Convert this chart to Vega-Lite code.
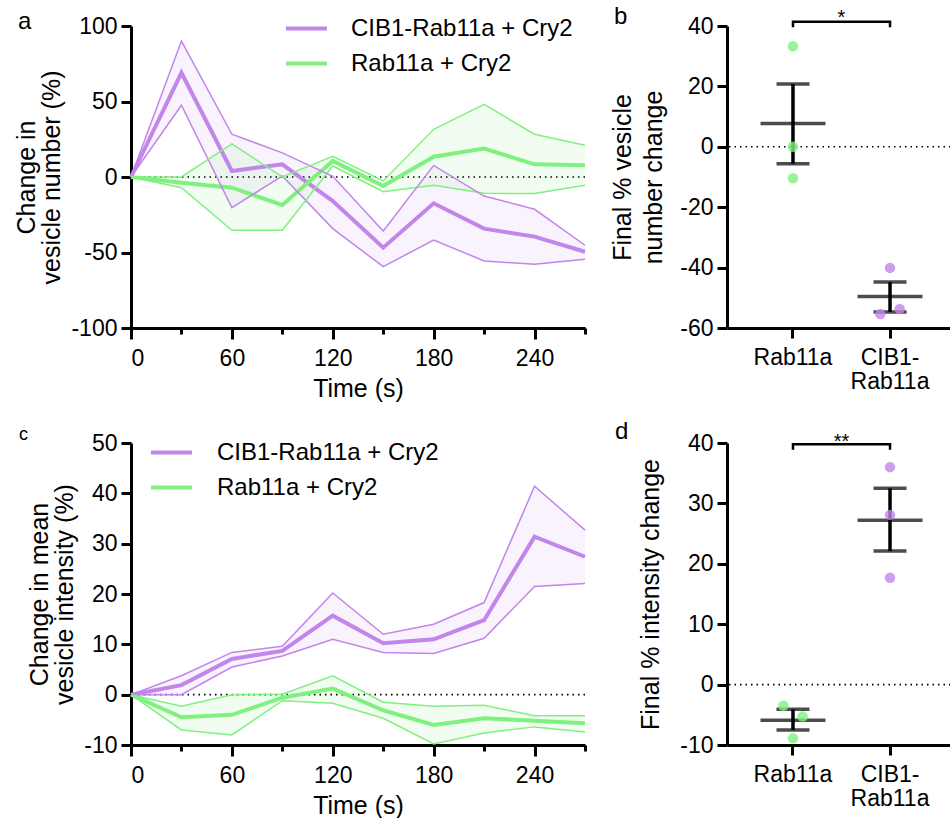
{
  "$schema": "https://vega.github.io/schema/vega-lite/v6.json",
  "padding": {"left": 14, "top": 5, "right": 0, "bottom": 0},
  "background": "white",
  "config": {
    "font": "Liberation Sans",
    "view": {"stroke": null},
    "axis": {"domainColor": "black", "domainWidth": 3, "tickColor": "black", "tickWidth": 3, "tickSize": 10, "labelFontSize": 23, "labelColor": "black", "titleFontSize": 25, "titleFontWeight": "normal", "titleColor": "black", "grid": false, "labelFont": "Liberation Sans", "titleFont": "Liberation Sans", "labelPadding": 4, "labelExpr": "replace(datum.label, '−', '-')"},
    "title": {"fontSize": 24, "fontWeight": "normal", "anchor": "start", "frame": "group", "color": "black"},
    "legend": {"labelFont": "Liberation Sans", "labelColor": "black", "labelLimit": 500}
  },
  "datasets": {
    "num": [
      {"t": 0, "g": "CIB1-Rab11a + Cry2", "mean": 0, "lo": 0, "hi": 0},
      {"t": 30, "g": "CIB1-Rab11a + Cry2", "mean": 69, "lo": 47.5, "hi": 90},
      {"t": 60, "g": "CIB1-Rab11a + Cry2", "mean": 4, "lo": -20.3, "hi": 28.3},
      {"t": 90, "g": "CIB1-Rab11a + Cry2", "mean": 8.4, "lo": 0.7, "hi": 16},
      {"t": 120, "g": "CIB1-Rab11a + Cry2", "mean": -15.9, "lo": -34.2, "hi": 0.5},
      {"t": 150, "g": "CIB1-Rab11a + Cry2", "mean": -46.8, "lo": -59.4, "hi": -35.8},
      {"t": 180, "g": "CIB1-Rab11a + Cry2", "mean": -17.4, "lo": -41.7, "hi": 7.7},
      {"t": 210, "g": "CIB1-Rab11a + Cry2", "mean": -34.2, "lo": -55.6, "hi": -12.6},
      {"t": 240, "g": "CIB1-Rab11a + Cry2", "mean": -39.5, "lo": -57.8, "hi": -21.4},
      {"t": 270, "g": "CIB1-Rab11a + Cry2", "mean": -49.5, "lo": -54.5, "hi": -45.2},
      {"t": 0, "g": "Rab11a + Cry2", "mean": 0, "lo": 0, "hi": 0},
      {"t": 30, "g": "Rab11a + Cry2", "mean": -3.8, "lo": -7.1, "hi": 0},
      {"t": 60, "g": "Rab11a + Cry2", "mean": -7.1, "lo": -35.3, "hi": 22},
      {"t": 90, "g": "Rab11a + Cry2", "mean": -18.5, "lo": -35.3, "hi": 0},
      {"t": 120, "g": "Rab11a + Cry2", "mean": 10.6, "lo": 7.3, "hi": 13.7},
      {"t": 150, "g": "Rab11a + Cry2", "mean": -6, "lo": -9.7, "hi": -2.6},
      {"t": 180, "g": "Rab11a + Cry2", "mean": 13.4, "lo": -5.5, "hi": 31.6},
      {"t": 210, "g": "Rab11a + Cry2", "mean": 18.8, "lo": -10.8, "hi": 48.1},
      {"t": 240, "g": "Rab11a + Cry2", "mean": 8.4, "lo": -11, "hi": 28.3},
      {"t": 270, "g": "Rab11a + Cry2", "mean": 7.7, "lo": -5.5, "hi": 21}
    ],
    "int": [
      {"t": 0, "g": "CIB1-Rab11a + Cry2", "mean": 0, "lo": 0, "hi": 0},
      {"t": 30, "g": "CIB1-Rab11a + Cry2", "mean": 1.9, "lo": 0, "hi": 3.75},
      {"t": 60, "g": "CIB1-Rab11a + Cry2", "mean": 7.1, "lo": 5.5, "hi": 8.4},
      {"t": 90, "g": "CIB1-Rab11a + Cry2", "mean": 8.7, "lo": 7.7, "hi": 9.6},
      {"t": 120, "g": "CIB1-Rab11a + Cry2", "mean": 15.7, "lo": 11, "hi": 20.2},
      {"t": 150, "g": "CIB1-Rab11a + Cry2", "mean": 10.2, "lo": 8.4, "hi": 12},
      {"t": 180, "g": "CIB1-Rab11a + Cry2", "mean": 11, "lo": 8.2, "hi": 14},
      {"t": 210, "g": "CIB1-Rab11a + Cry2", "mean": 14.8, "lo": 11.2, "hi": 18.3},
      {"t": 240, "g": "CIB1-Rab11a + Cry2", "mean": 31.4, "lo": 21.5, "hi": 41.4},
      {"t": 270, "g": "CIB1-Rab11a + Cry2", "mean": 27.4, "lo": 22.1, "hi": 32.7},
      {"t": 0, "g": "Rab11a + Cry2", "mean": 0, "lo": 0, "hi": 0},
      {"t": 30, "g": "Rab11a + Cry2", "mean": -4.5, "lo": -7, "hi": -2.3},
      {"t": 60, "g": "Rab11a + Cry2", "mean": -4, "lo": -8, "hi": 0},
      {"t": 90, "g": "Rab11a + Cry2", "mean": -0.6, "lo": -1.2, "hi": 0.1},
      {"t": 120, "g": "Rab11a + Cry2", "mean": 1.2, "lo": -1.7, "hi": 3.75},
      {"t": 150, "g": "Rab11a + Cry2", "mean": -3.1, "lo": -4.7, "hi": -1.5},
      {"t": 180, "g": "Rab11a + Cry2", "mean": -6, "lo": -9.8, "hi": -2.3},
      {"t": 210, "g": "Rab11a + Cry2", "mean": -4.7, "lo": -7.6, "hi": -2.1},
      {"t": 240, "g": "Rab11a + Cry2", "mean": -5.2, "lo": -6.4, "hi": -4.2},
      {"t": 270, "g": "Rab11a + Cry2", "mean": -5.7, "lo": -7.4, "hi": -4.2}
    ],
    "ptsB": [
      {"grp": "Rab11a", "v": 33.3, "pos": "C"},
      {"grp": "Rab11a", "v": 0, "pos": "C"},
      {"grp": "Rab11a", "v": -10.4, "pos": "C"},
      {"grp": "CIB1-Rab11a", "v": -40.1, "pos": "C"},
      {"grp": "CIB1-Rab11a", "v": -55.4, "pos": "L"},
      {"grp": "CIB1-Rab11a", "v": -53.7, "pos": "R"}
    ],
    "sumB": [
      {"grp": "Rab11a", "mean": 7.7, "lo": -5.6, "hi": 20.8},
      {"grp": "CIB1-Rab11a", "mean": -49.6, "lo": -54.7, "hi": -44.8}
    ],
    "ptsD": [
      {"grp": "Rab11a", "v": -3.5, "pos": "L"},
      {"grp": "Rab11a", "v": -5.3, "pos": "R"},
      {"grp": "Rab11a", "v": -8.9, "pos": "C"},
      {"grp": "CIB1-Rab11a", "v": 36, "pos": "C"},
      {"grp": "CIB1-Rab11a", "v": 28.1, "pos": "C"},
      {"grp": "CIB1-Rab11a", "v": 17.7, "pos": "C"}
    ],
    "sumD": [
      {"grp": "Rab11a", "mean": -5.9, "lo": -7.5, "hi": -4.1},
      {"grp": "CIB1-Rab11a", "mean": 27.2, "lo": 22.1, "hi": 32.5}
    ],
    "brB": [
      {"grp": "Rab11a", "y": 39.6, "o": 1},
      {"grp": "Rab11a", "y": 41.4, "o": 2},
      {"grp": "CIB1-Rab11a", "y": 41.4, "o": 3},
      {"grp": "CIB1-Rab11a", "y": 39.6, "o": 4}
    ],
    "brD": [
      {"grp": "Rab11a", "y": 38.9, "o": 1},
      {"grp": "Rab11a", "y": 39.8, "o": 2},
      {"grp": "CIB1-Rab11a", "y": 39.8, "o": 3},
      {"grp": "CIB1-Rab11a", "y": 38.9, "o": 4}
    ],
    "starB": [{"grp": "Rab11a", "y": 40.5, "s": "*"}],
    "starD": [{"grp": "Rab11a", "y": 39.2, "s": "**"}]
  },
  "bounds": "flush",
  "columns": 2,
  "spacing": {"row": 115, "column": 142},
  "resolve": {
    "scale": {"x": "independent", "y": "independent", "xOffset": "independent"}
  },
  "concat": [
    {
      "width": 454, "height": 302,
      "title": {"text": "a", "dx": -113, "dy": 19, "offset": 0},
      "data": {"name": "num"},
      "layer": [
        {
          "mark": {"type": "area", "fillOpacity": 0.1},
          "encoding": {
            "x": {"field": "t", "type": "quantitative", "scale": {"domain": [0, 270], "nice": false},
              "axis": {"title": "Time (s)", "values": [0, 30, 60, 90, 120, 150, 180, 210, 240, 270], "labelExpr": "datum.value % 60 === 0 ? datum.label : ''", "tickSize": {"condition": {"test": "datum.value % 60 === 0", "value": 11}, "value": 6}, "labelPadding": 8, "titlePadding": 6}},
            "y": {"field": "lo", "type": "quantitative", "scale": {"domain": [-100, 100], "nice": false},
              "axis": {"title": ["Change in", "vesicle number (%)"], "values": [-100, -50, 0, 50, 100], "titleLineHeight": 25, "titlePadding": 6}},
            "y2": {"field": "hi"},
            "detail": {"field": "g"},
            "fill": {"condition": {"test": "datum.g === 'Rab11a + Cry2'", "value": "#80f080"}, "value": "#c285ea"}
          }
        },
        {
          "data": {"values": [{}]},
          "mark": {"type": "rule", "strokeDash": [1.5, 4], "strokeWidth": 1.6, "color": "black"},
          "encoding": {"y": {"datum": 0}}
        },
        {
          "mark": {"type": "line", "strokeWidth": 4},
          "encoding": {
            "x": {"field": "t", "type": "quantitative"},
            "y": {"field": "mean", "type": "quantitative"},
            "color": {"field": "g", "type": "nominal", "title": null, "scale": {"domain": ["CIB1-Rab11a + Cry2", "Rab11a + Cry2"], "range": ["#c285ea", "#80f080"]},
              "legend": {"orient": "none", "legendX": 153, "legendY": -20, "title": null, "labelFontSize": 24, "symbolType": "stroke", "symbolSize": 1681, "symbolStrokeWidth": 4, "labelOffset": 22, "rowPadding": -1, "padding": 0}}
          }
        },
        {
          "mark": {"type": "line", "strokeWidth": 1.5},
          "encoding": {
            "x": {"field": "t", "type": "quantitative"},
            "y": {"field": "lo", "type": "quantitative"},
            "color": {"field": "g", "type": "nominal", "title": null}
          }
        },
        {
          "mark": {"type": "line", "strokeWidth": 1.5},
          "encoding": {
            "x": {"field": "t", "type": "quantitative"},
            "y": {"field": "hi", "type": "quantitative"},
            "color": {"field": "g", "type": "nominal", "title": null}
          }
        }
      ]
    },
    {
      "width": 229, "height": 302,
      "title": {"text": "b", "dx": -113, "dy": 21, "offset": 0},
      "layer": [
        {
          "data": {"values": [{}]},
          "mark": {"type": "rule", "strokeDash": [1.5, 4], "strokeWidth": 1.6, "color": "black"},
          "encoding": {"y": {"datum": 0, "type": "quantitative", "scale": {"domain": [-60, 40], "nice": false}}}
        },
        {
          "data": {"name": "sumB"},
          "mark": {"type": "rule", "strokeWidth": 3.5, "color": "black"},
          "encoding": {
            "x": {"field": "grp", "type": "nominal", "sort": ["Rab11a", "CIB1-Rab11a"], "scale": {"type": "band", "paddingInner": 0, "paddingOuter": 0.18},
              "axis": {"title": null, "labelAngle": 0, "labelExpr": "datum.value == 'CIB1-Rab11a' ? ['CIB1-', 'Rab11a'] : datum.value", "labelPadding": 8, "labelLineHeight": 24}},
            "y": {"field": "lo", "type": "quantitative", "scale": {"domain": [-60, 40], "nice": false},
              "axis": {"title": ["Final % vesicle", "number change"], "values": [-60, -40, -20, 0, 20, 40], "titleLineHeight": 31, "titlePadding": 13}},
            "y2": {"field": "hi"}
          }
        },
        {
          "data": {"name": "sumB"},
          "mark": {"type": "tick", "size": 65, "thickness": 3.5, "color": "black"},
          "encoding": {
            "x": {"field": "grp", "type": "nominal", "sort": ["Rab11a", "CIB1-Rab11a"]},
            "y": {"field": "mean", "type": "quantitative"}
          }
        },
        {
          "data": {"name": "sumB"},
          "mark": {"type": "tick", "size": 33, "thickness": 3.5, "color": "black"},
          "encoding": {
            "x": {"field": "grp", "type": "nominal", "sort": ["Rab11a", "CIB1-Rab11a"]},
            "y": {"field": "lo", "type": "quantitative"}
          }
        },
        {
          "data": {"name": "sumB"},
          "mark": {"type": "tick", "size": 33, "thickness": 3.5, "color": "black"},
          "encoding": {
            "x": {"field": "grp", "type": "nominal", "sort": ["Rab11a", "CIB1-Rab11a"]},
            "y": {"field": "hi", "type": "quantitative"}
          }
        },
        {
          "data": {"name": "ptsB"},
          "mark": {"type": "point", "filled": true, "size": 110, "opacity": 0.8},
          "encoding": {
            "x": {"field": "grp", "type": "nominal", "sort": ["Rab11a", "CIB1-Rab11a"]},
            "xOffset": {"field": "pos", "type": "nominal", "scale": {"domain": ["L", "C", "R"], "range": [34, 63]}},
            "y": {"field": "v", "type": "quantitative"},
            "fill": {"field": "grp", "type": "nominal", "scale": {"domain": ["Rab11a", "CIB1-Rab11a"], "range": ["#80f080", "#c285ea"]}, "legend": null}
          }
        },
        {
          "data": {"name": "brB"},
          "mark": {"type": "line", "strokeWidth": 2.5, "color": "black"},
          "encoding": {
            "x": {"field": "grp", "type": "nominal", "sort": ["Rab11a", "CIB1-Rab11a"], "bandPosition": 0.5},
            "y": {"field": "y", "type": "quantitative"},
            "order": {"field": "o"}
          }
        },
        {
          "data": {"name": "starB"},
          "mark": {"type": "text", "fontSize": 20, "baseline": "alphabetic", "color": "black"},
          "encoding": {
            "x": {"field": "grp", "type": "nominal", "sort": ["Rab11a", "CIB1-Rab11a"], "bandPosition": 1},
            "y": {"field": "y", "type": "quantitative"},
            "text": {"field": "s"}
          }
        }
      ]
    },
    {
      "width": 454, "height": 302,
      "title": {"text": "c", "dx": -112, "dy": 12, "offset": 0, "fontSize": 18},
      "data": {"name": "int"},
      "layer": [
        {
          "mark": {"type": "area", "fillOpacity": 0.1},
          "encoding": {
            "x": {"field": "t", "type": "quantitative", "scale": {"domain": [0, 270], "nice": false},
              "axis": {"title": "Time (s)", "values": [0, 30, 60, 90, 120, 150, 180, 210, 240, 270], "labelExpr": "datum.value % 60 === 0 ? datum.label : ''", "tickSize": {"condition": {"test": "datum.value % 60 === 0", "value": 11}, "value": 6}, "labelPadding": 8, "titlePadding": 6}},
            "y": {"field": "lo", "type": "quantitative", "scale": {"domain": [-10, 50], "nice": false},
              "axis": {"title": ["Change in mean", "vesicle intensity (%)"], "values": [-10, 0, 10, 20, 30, 40, 50], "titleLineHeight": 25, "titlePadding": 6}},
            "y2": {"field": "hi"},
            "detail": {"field": "g"},
            "fill": {"condition": {"test": "datum.g === 'Rab11a + Cry2'", "value": "#80f080"}, "value": "#c285ea"}
          }
        },
        {
          "data": {"values": [{}]},
          "mark": {"type": "rule", "strokeDash": [1.5, 4], "strokeWidth": 1.6, "color": "black"},
          "encoding": {"y": {"datum": 0}}
        },
        {
          "mark": {"type": "line", "strokeWidth": 4},
          "encoding": {
            "x": {"field": "t", "type": "quantitative"},
            "y": {"field": "mean", "type": "quantitative"},
            "stroke": {"field": "g", "type": "nominal", "title": null, "scale": {"range": ["#c285ea", "#80f080"]},
              "legend": {"orient": "none", "legendX": 18, "legendY": 404, "title": null, "labelFontSize": 24, "symbolType": "stroke", "symbolSize": 1681, "symbolStrokeWidth": 4, "labelOffset": 23, "rowPadding": 0, "padding": 0}}
          }
        },
        {
          "mark": {"type": "line", "strokeWidth": 1.5},
          "encoding": {
            "x": {"field": "t", "type": "quantitative"},
            "y": {"field": "lo", "type": "quantitative"},
            "stroke": {"field": "g", "type": "nominal", "title": null}
          }
        },
        {
          "mark": {"type": "line", "strokeWidth": 1.5},
          "encoding": {
            "x": {"field": "t", "type": "quantitative"},
            "y": {"field": "hi", "type": "quantitative"},
            "stroke": {"field": "g", "type": "nominal", "title": null}
          }
        }
      ]
    },
    {
      "width": 229, "height": 302,
      "title": {"text": "d", "dx": -112, "dy": 12, "offset": 0},
      "layer": [
        {
          "data": {"values": [{}]},
          "mark": {"type": "rule", "strokeDash": [1.5, 4], "strokeWidth": 1.6, "color": "black"},
          "encoding": {"y": {"datum": 0, "type": "quantitative", "scale": {"domain": [-10, 40], "nice": false}}}
        },
        {
          "data": {"name": "sumD"},
          "mark": {"type": "rule", "strokeWidth": 3.5, "color": "black"},
          "encoding": {
            "x": {"field": "grp", "type": "nominal", "sort": ["Rab11a", "CIB1-Rab11a"], "scale": {"type": "band", "paddingInner": 0, "paddingOuter": 0.18},
              "axis": {"title": null, "labelAngle": 0, "labelExpr": "datum.value == 'CIB1-Rab11a' ? ['CIB1-', 'Rab11a'] : datum.value", "labelPadding": 8, "labelLineHeight": 24}},
            "y": {"field": "lo", "type": "quantitative", "scale": {"domain": [-10, 40], "nice": false},
              "axis": {"title": "Final % intensity change", "values": [-10, 0, 10, 20, 30, 40], "titlePadding": 16}},
            "y2": {"field": "hi"}
          }
        },
        {
          "data": {"name": "sumD"},
          "mark": {"type": "tick", "size": 65, "thickness": 3.5, "color": "black"},
          "encoding": {
            "x": {"field": "grp", "type": "nominal", "sort": ["Rab11a", "CIB1-Rab11a"]},
            "y": {"field": "mean", "type": "quantitative"}
          }
        },
        {
          "data": {"name": "sumD"},
          "mark": {"type": "tick", "size": 33, "thickness": 3.5, "color": "black"},
          "encoding": {
            "x": {"field": "grp", "type": "nominal", "sort": ["Rab11a", "CIB1-Rab11a"]},
            "y": {"field": "lo", "type": "quantitative"}
          }
        },
        {
          "data": {"name": "sumD"},
          "mark": {"type": "tick", "size": 33, "thickness": 3.5, "color": "black"},
          "encoding": {
            "x": {"field": "grp", "type": "nominal", "sort": ["Rab11a", "CIB1-Rab11a"]},
            "y": {"field": "hi", "type": "quantitative"}
          }
        },
        {
          "data": {"name": "ptsD"},
          "mark": {"type": "point", "filled": true, "size": 110, "opacity": 0.8},
          "encoding": {
            "x": {"field": "grp", "type": "nominal", "sort": ["Rab11a", "CIB1-Rab11a"]},
            "xOffset": {"field": "pos", "type": "nominal", "scale": {"domain": ["L", "C", "R"], "range": [34, 63]}},
            "y": {"field": "v", "type": "quantitative"},
            "fill": {"field": "grp", "type": "nominal", "scale": {"domain": ["Rab11a", "CIB1-Rab11a"], "range": ["#80f080", "#c285ea"]}, "legend": null}
          }
        },
        {
          "data": {"name": "brD"},
          "mark": {"type": "line", "strokeWidth": 2.5, "color": "black"},
          "encoding": {
            "x": {"field": "grp", "type": "nominal", "sort": ["Rab11a", "CIB1-Rab11a"], "bandPosition": 0.5},
            "y": {"field": "y", "type": "quantitative"},
            "order": {"field": "o"}
          }
        },
        {
          "data": {"name": "starD"},
          "mark": {"type": "text", "fontSize": 20, "baseline": "alphabetic", "color": "black"},
          "encoding": {
            "x": {"field": "grp", "type": "nominal", "sort": ["Rab11a", "CIB1-Rab11a"], "bandPosition": 1},
            "y": {"field": "y", "type": "quantitative"},
            "text": {"field": "s"}
          }
        }
      ]
    }
  ]
}
